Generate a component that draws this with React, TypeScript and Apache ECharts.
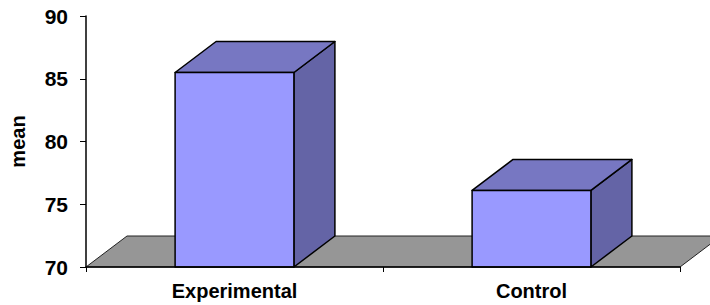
import React, { useEffect, useRef } from "react";
import * as echarts from "echarts";

const categories = ["Experimental", "Control"];
const means = [85.5, 76.1];
const yMin = 70;
const yMax = 90;
const yStep = 5;

const FONT = "'Liberation Sans', Arial, sans-serif";
const DX = 41;
const DY = -31;

export default function App() {
  const ref = useRef<HTMLDivElement>(null);
  useEffect(() => {
    const chart = echarts.init(ref.current!, null, { renderer: "svg" });
    chart.setOption({
      animation: false,
      backgroundColor: "#ffffff",
      grid: { left: 83, right: 30, top: 16, bottom: 38 },
      xAxis: {
        type: "category",
        data: categories,
        z: 5,
        axisLine: { show: true, lineStyle: { color: "#000", width: 1.5 } },
        axisTick: { show: true, length: 5, lineStyle: { color: "#000", width: 1 } },
        axisLabel: {
          color: "#000",
          fontFamily: FONT,
          fontWeight: "bold",
          fontSize: 20,
          margin: 14,
        },
      },
      yAxis: {
        type: "value",
        min: yMin,
        max: yMax,
        interval: yStep,
        name: "mean",
        nameLocation: "middle",
        nameRotate: 90,
        nameGap: 58,
        nameTextStyle: { color: "#000", fontFamily: FONT, fontWeight: "bold", fontSize: 20 },
        splitLine: { show: false },
        axisLine: { show: true, lineStyle: { color: "#000", width: 1.5 } },
        axisTick: { show: true, length: 6, lineStyle: { color: "#000", width: 1 } },
        axisLabel: {
          color: "#000",
          fontFamily: FONT,
          fontWeight: "bold",
          fontSize: 21,
          margin: 18,
        },
      },
      series: [
        {
          type: "custom",
          z: 1,
          data: [[0]],
          renderItem: (params: any, api: any) => {
            const cs = params.coordSys;
            const yb = cs.y + cs.height;
            const xl = cs.x;
            const xr = cs.x + cs.width;
            return {
              type: "polygon",
              shape: {
                points: [
                  [xl, yb],
                  [xr, yb],
                  [xr + DX, yb + DY],
                  [xl + DX, yb + DY],
                ],
              },
              style: { fill: "#969696", stroke: "#222", lineWidth: 1 },
            };
          },
        },
        {
          type: "custom",
          z: 2,
          data: means.map((v, i) => [i, v]),
          renderItem: (params: any, api: any) => {
            const idx = api.value(0);
            const val = api.value(1);
            const top = api.coord([idx, val]);
            const base = api.coord([idx, yMin]);
            const w = api.size([1, 0])[0] * 0.4;
            const x0 = top[0] - w / 2;
            const x1 = top[0] + w / 2;
            const yT = top[1];
            const yB = base[1];
            const st = { stroke: "#000", lineWidth: 1.5, lineJoin: "round" };
            return {
              type: "group",
              children: [
                {
                  type: "polygon",
                  shape: { points: [[x1, yB], [x1 + DX, yB + DY], [x1 + DX, yT + DY], [x1, yT]] },
                  style: { fill: "#6464a6", ...st },
                },
                {
                  type: "polygon",
                  shape: { points: [[x0, yT], [x0 + DX, yT + DY], [x1 + DX, yT + DY], [x1, yT]] },
                  style: { fill: "#7777c2", ...st },
                },
                {
                  type: "rect",
                  shape: { x: x0, y: yT, width: w, height: yB - yT },
                  style: { fill: "#9999ff", ...st },
                },
              ],
            };
          },
        },
      ],
    });
    return () => chart.dispose();
  }, []);
  return (
    <div
      ref={ref}
      style={{ position: "fixed", left: 0, top: 0, width: 710, height: 305 }}
    />
  );
}
